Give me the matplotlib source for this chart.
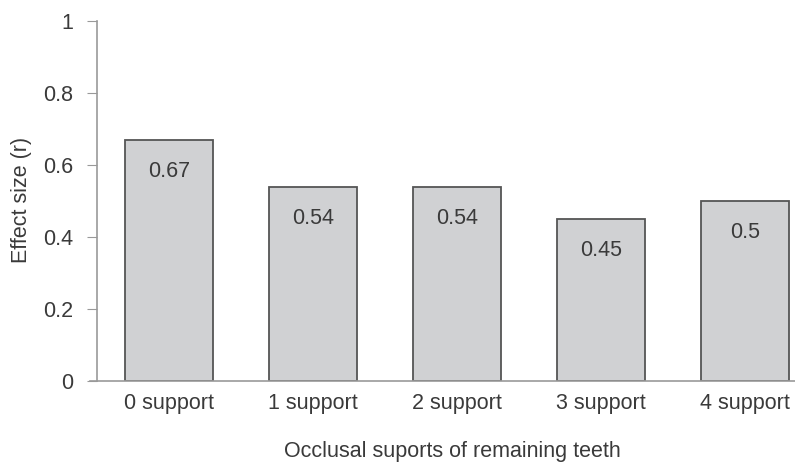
import matplotlib
matplotlib.use("Agg")
import matplotlib.pyplot as plt

categories = ["0 support", "1 support", "2 support", "3 support", "4 support"]
values = [0.67, 0.54, 0.54, 0.45, 0.5]
labels = ["0.67", "0.54", "0.54", "0.45", "0.5"]
yticks = [0, 0.2, 0.4, 0.6, 0.8, 1]
yticklabels = ["0", "0.2", "0.4", "0.6", "0.8", "1"]

plt.rcParams['font.family'] = ['Liberation Sans', 'DejaVu Sans']
txt = '#3a3a3a'
fs = 15.5
fig = plt.figure(figsize=(7.95, 4.68), dpi=100)
ax = fig.add_axes([97/795, (468-381)/468, 720/795, 360/468])
x = list(range(len(categories)))
ax.bar(x, values, width=0.61, color='#d0d1d3', edgecolor='#555555', linewidth=1.3)
for xi, v, l in zip(x, values, labels):
    ax.annotate(l, (xi, v), xytext=(0, -32), textcoords='offset pixels',
                ha='center', va='center', fontsize=fs, color=txt)
ax.set_xlim(-0.5, 4.5)
ax.set_ylim(0, 1)
ax.set_yticks(yticks)
ax.set_yticklabels(yticklabels)
ax.set_xticks(x)
ax.set_xticklabels(categories)
for s in ['top', 'right']:
    ax.spines[s].set_visible(False)
for s in ['left', 'bottom']:
    ax.spines[s].set_color('#999999')
    ax.spines[s].set_linewidth(1.2)
ax.tick_params(axis='y', length=7, color='#999999', labelsize=fs, labelcolor=txt, pad=10)
ax.tick_params(axis='x', length=0, labelsize=fs, labelcolor=txt, pad=9)
ax.spines['bottom'].set_bounds(-0.5 - 7/144, 4.5)
fig.text(22/795, 1 - 200/468, 'Effect size (r)', rotation=90, ha='center', va='center', fontsize=fs, color=txt)
fig.text(452/795, 1 - 451/468, 'Occlusal suports of remaining teeth', ha='center', va='center', fontsize=fs, color=txt)
fig.savefig('out.png', dpi=100)
